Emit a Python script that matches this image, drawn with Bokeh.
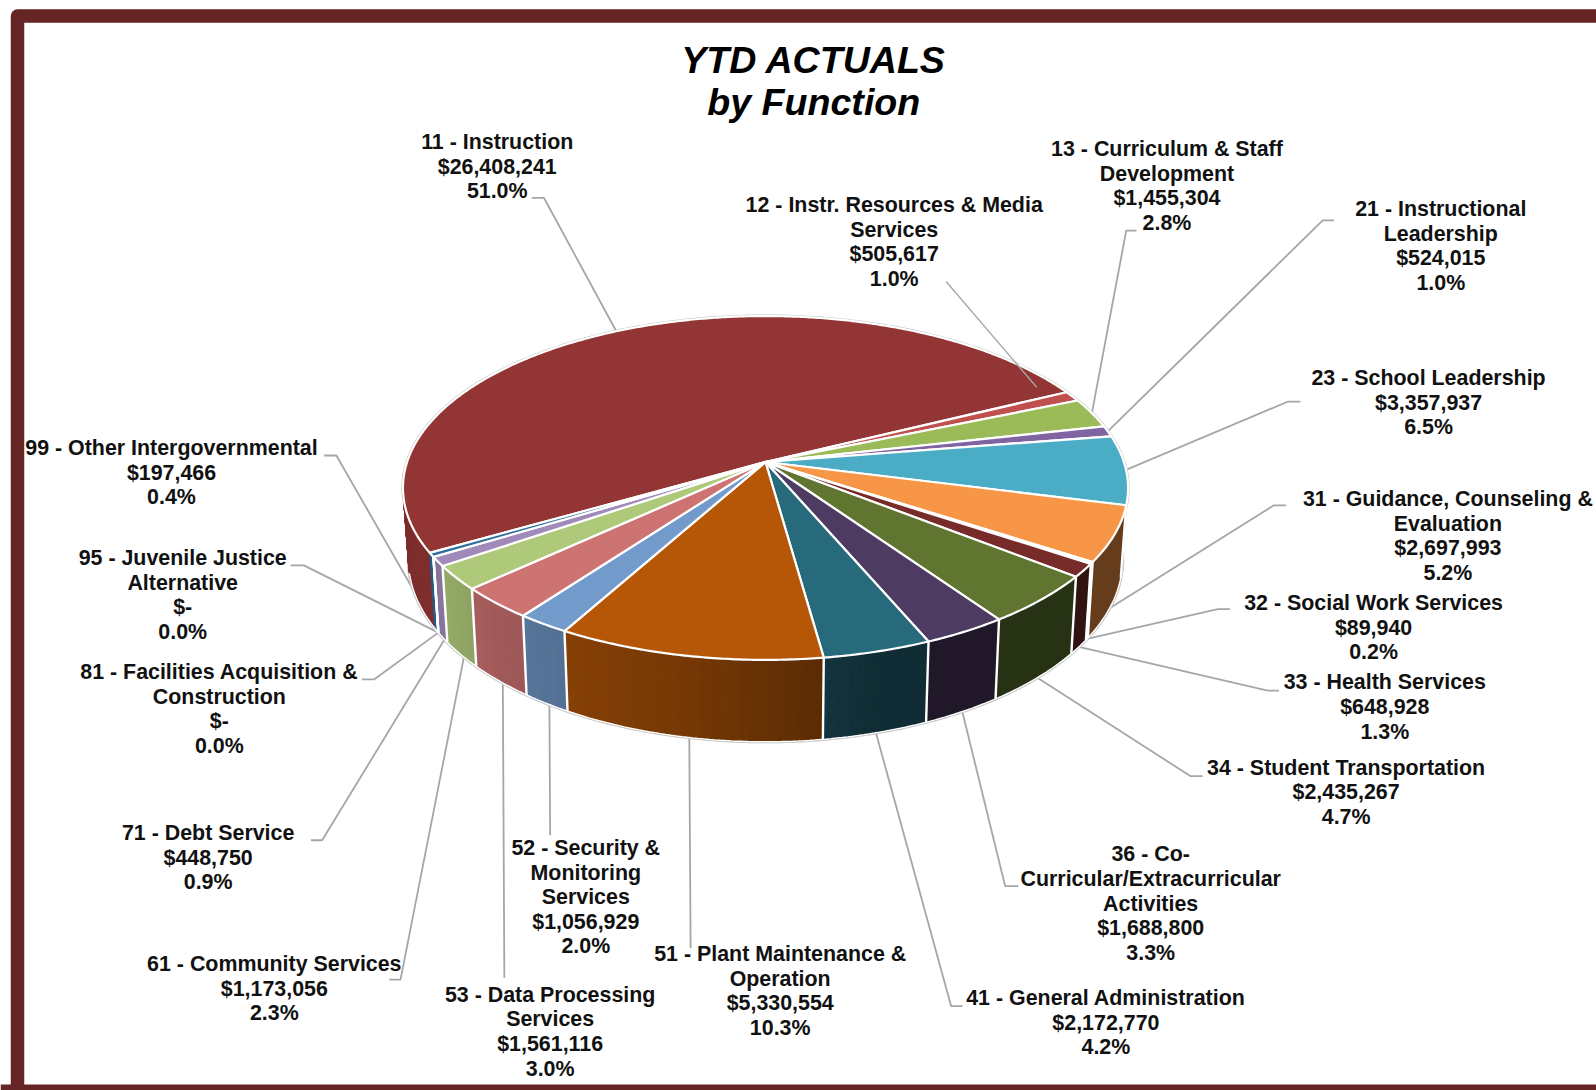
import numpy as np
from bokeh.plotting import figure
from bokeh.core.properties import value
from bokeh.embed import file_html
from bokeh.resources import INLINE

# ---- data ----
categories = [
    ["11 - Instruction"],
    ["12 - Instr. Resources & Media", "Services"],
    ["13 - Curriculum & Staff", "Development"],
    ["21 - Instructional", "Leadership"],
    ["23 - School Leadership"],
    ["31 - Guidance, Counseling &", "Evaluation"],
    ["32 - Social Work Services"],
    ["33 - Health Services"],
    ["34 - Student Transportation"],
    ["36 - Co-", "Curricular/Extracurricular", "Activities"],
    ["41 - General Administration"],
    ["51 - Plant Maintenance &", "Operation"],
    ["52 - Security &", "Monitoring", "Services"],
    ["53 - Data Processing", "Services"],
    ["61 - Community Services"],
    ["71 - Debt Service"],
    ["81 - Facilities Acquisition &", "Construction"],
    ["95 - Juvenile Justice", "Alternative"],
    ["99 - Other Intergovernmental"],
]
amounts = [26408241, 505617, 1455304, 524015, 3357937, 2697993, 89940, 648928,
           2435267, 1688800, 2172770, 5330554, 1056929, 1561116, 1173056,
           448750, 0, 0, 197466]
colors = ["#923534", "#C0504D", "#9BBB59", "#8064A2", "#4BACC6", "#F79646", "#2C4D75",
          "#772C2A", "#5F7530", "#4D3B62", "#276A7C", "#B65708", "#729ACA", "#CD7371",
          "#AFC97A", "#9F8AB9", "#5BA7BE", "#F8A96F", "#2C6C9E"]
title_lines = ["YTD ACTUALS", "by Function"]

# ---- layout (in the coordinates of the shrunk view, scaled to page pixels) ----
S = 1596 / 1568
label_pos = [(488, 139), (878, 201), (1146, 146), (1415, 205), (1403, 371), (1422, 490),
             (1349, 592), (1360, 670), (1322, 754), (1130, 839), (1086, 980), (766, 937),
             (575, 833), (540, 977), (269, 947), (204, 818), (215, 660), (179, 548), (168, 440)]
# elbow points of each leader, from the label towards the pie; the last end is on the rim
leader_pts = [[(522, 194), (534, 194)], None, [(1116, 226), (1106, 226)], [(1310, 216), (1299, 216)],
              [(1277, 394), (1265, 394)], [(1263, 496), (1251, 496)], [(1208, 598), (1196, 598)],
              [(1256, 678), (1245, 678)], [(1181, 762), (1169, 762)], [(1000, 870), (987, 870)],
              [(945, 988), (934, 988)], [(678, 931)], [(540, 820)], [(495, 960)],
              [(382, 962), (393, 962)], [(305, 825), (316, 825)], [(355, 667), (367, 667)],
              [(285, 555), (298, 555)], [(318, 447), (330, 447)]]
leader_on_top = [True, True, True, True, True] + [False] * 14
leader_nudge = {12: (3, 0), 13: (3, 0), 14: (3, 3), 15: (3, 0)}

CX, CY = 765.0, 461.5
A, B, K = 358.4, 168.0, 0.151
START = 210.0


def top(t):
    t = np.radians(t)
    d = 1 + K * np.sin(t)
    return CX + A * np.cos(t) / d, CY - B * np.sin(t) / d


def base(t):
    x, y = top(t)
    return CX + 0.985 * (x - CX), CY + 70 + 1.06 * (y - CY)


def shade(t):
    return np.interp(t, [170, 215, 228, 237, 241, 262, 278, 286, 360],
                     [.85, .85, .79, .75, .74, .63, .50, .42, .41])


def scaled(hexc, f):
    return "#%02x%02x%02x" % tuple(int(int(hexc[i:i + 2], 16) * f) for i in (1, 3, 5))


total = sum(amounts)
sweeps = [v / total * 360 for v in amounts]
edges = START - np.concatenate([[0], np.cumsum(sweeps)])

p = figure(width=1596, height=1090, x_range=(0, 1596), y_range=(1090, 0),
           output_backend="svg", toolbar_location=None,
           x_axis_location=None, y_axis_location=None,
           min_border=0, outline_line_color=None, background_fill_color="white")
p.grid.visible = False

# frame
FRAME = "#642524"
p.line([17, 17, 1610], [1100, 15.5, 15.5], line_color=FRAME, line_width=13.5, line_join="round")
p.line([0, 1610], [1090, 1090], line_color=FRAME, line_width=12)

# leaders below the pie
GREY = "#a6a6a6"
for i, pts in enumerate(leader_pts):
    if pts is None:
        continue
    mid = (edges[i] + edges[i + 1]) / 2
    end = top(mid) if leader_on_top[i] else base(mid)
    nx, ny = leader_nudge.get(i, (0, 0))
    xs = [q[0] * S for q in pts] + [float(end[0]) + nx]
    ys = [q[1] * S for q in pts] + [float(end[1]) + ny]
    p.line(xs, ys, line_color=GREY, line_width=1.8)

# grey halo
ring = np.linspace(0, 360, 361)
bx, by = base(ring)
tx, ty = top(ring)
p.patch(bx, by, fill_color="#ffffff", line_color="#c4c4c4", line_width=3.2)
p.patch(tx, ty, fill_color="#ffffff", line_color="#c4c4c4", line_width=3.2)

# sides: bands of equal shade along the visible front of each slice
sx, sy, sc = [], [], []
seg_x, seg_y = [], []
for i, col in enumerate(colors):
    a0, a1 = edges[i], edges[i + 1]
    n = max(int(abs(a0 - a1) * 2), 1)
    ang = np.linspace(a0, a1, n + 1)
    bands = []
    for u, v in zip(ang[:-1], ang[1:]):
        m = ((u + v) / 2) % 360
        if 180 <= m <= 346:
            q = round(float(shade(m)) * 100)
            # near the left silhouette the two rims cross: keep single strips there
            if bands and bands[-1][0] == q and m >= 205:
                bands[-1][1].append(v)
            else:
                bands.append((q, [u, v]))
    for q, a in bands:
        a = np.array(a)
        x0, y0 = top(a)
        x1, y1 = base(a)
        sx.append(np.r_[x0, x1[::-1]]); sy.append(np.r_[y0, y1[::-1]])
        sc.append(scaled(col, q / 100))
p.patches(sx, sy, fill_color=sc, line_color=sc, line_width=1)

for e in edges[5:-1]:
    x0, y0 = top(e); x1, y1 = base(e)
    seg_x.append([x0, x1]); seg_y.append([y0, y1])
p.multi_line(seg_x, seg_y, line_color="white", line_width=2.4)
arc = np.linspace(193, 346, 200)
ax, ay = base(arc)
p.line(ax, ay, line_color="white", line_width=1.5)

# top faces
for i, col in enumerate(colors):
    if amounts[i] == 0:
        continue
    n = max(int(abs(edges[i] - edges[i + 1]) * 2), 2)
    ang = np.linspace(edges[i], edges[i + 1], n + 1)
    x, y = top(ang)
    p.patch(np.r_[CX, x], np.r_[CY, y], fill_color=col, line_color="white",
            line_width=2.2, line_join="round")

# leader of 12 runs over the pie
p.line([929 * S, 1018 * S], [276 * S, 380 * S], line_color=GREY, line_width=1.4)

# labels
LH = 24.1
font = value("Liberation Sans")
for lines, amt, pos in zip(categories, amounts, label_pos):
    money = f"${amt:,}" if amt else "$-"
    block = lines + [money, f"{amt / total:.1%}"]
    for k, s in enumerate(block):
        p.text([pos[0] * S], [(pos[1] + k * LH) * S], text=[s], text_font=font,
               text_font_size="21.4px", text_font_style="bold", text_color="#111111",
               text_align="center", text_baseline="middle")

for k, s in enumerate(title_lines):
    p.text([799 * S], [(58 + 42 * k) * S], text=[s], text_font=font, text_font_size="37.6px",
           text_font_style="bold italic", text_color="black",
           text_align="center", text_baseline="middle")

open("out.html", "w").write(file_html(p, INLINE))
